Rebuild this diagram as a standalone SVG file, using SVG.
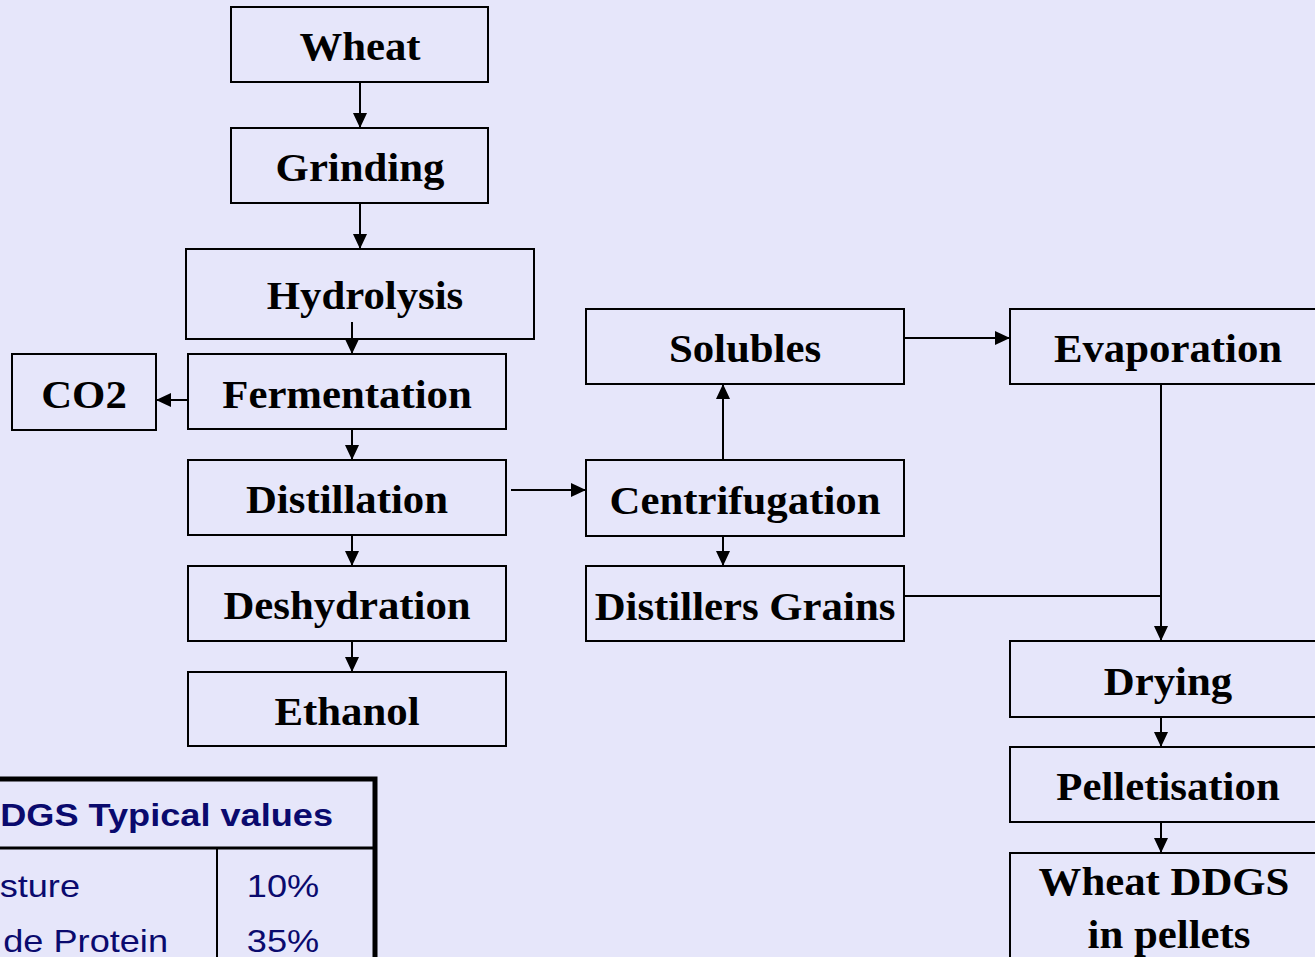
<svg xmlns="http://www.w3.org/2000/svg" width="1315" height="957" viewBox="0 0 1315 957">
<style>
.box{fill:none;stroke:#000;stroke-width:2}
.lbl{font-family:"Liberation Serif","Times New Roman",serif;font-weight:bold;font-size:40px;fill:#000;text-anchor:middle}
.conn{stroke:#000;stroke-width:2;fill:none}
.tbl{font-family:"Liberation Sans",Arial,sans-serif;font-size:32px;fill:#0a0a6e}
</style>
<defs>
<marker id="ah" markerUnits="userSpaceOnUse" markerWidth="16" markerHeight="14" refX="15" refY="7" orient="auto">
<path d="M0,0 L15,7 L0,14 Z" fill="#000"/>
</marker>
</defs>
<rect x="0" y="0" width="1315" height="957" fill="#E6E6FA"/>
<g id="connectors">
<line class="conn" x1="360" y1="82" x2="360" y2="128" marker-end="url(#ah)"/>
<line class="conn" x1="360" y1="203" x2="360" y2="249" marker-end="url(#ah)"/>
<line class="conn" x1="352" y1="322" x2="352" y2="354" marker-end="url(#ah)"/>
<line class="conn" x1="188" y1="400" x2="156" y2="400" marker-end="url(#ah)"/>
<line class="conn" x1="352" y1="429" x2="352" y2="460" marker-end="url(#ah)"/>
<line class="conn" x1="352" y1="535" x2="352" y2="566" marker-end="url(#ah)"/>
<line class="conn" x1="352" y1="641" x2="352" y2="672" marker-end="url(#ah)"/>
<line class="conn" x1="511" y1="490" x2="586" y2="490" marker-end="url(#ah)"/>
<line class="conn" x1="723" y1="460" x2="723" y2="384" marker-end="url(#ah)"/>
<line class="conn" x1="723" y1="536" x2="723" y2="566" marker-end="url(#ah)"/>
<line class="conn" x1="904" y1="338" x2="1010" y2="338" marker-end="url(#ah)"/>
<line class="conn" x1="1161" y1="384" x2="1161" y2="641" marker-end="url(#ah)"/>
<line class="conn" x1="904" y1="596" x2="1161" y2="596"/>
<line class="conn" x1="1161" y1="717" x2="1161" y2="747" marker-end="url(#ah)"/>
<line class="conn" x1="1161" y1="822" x2="1161" y2="853" marker-end="url(#ah)"/>
</g>
<g id="wheat"><rect class="box" x="231" y="7" width="257" height="75"/><text class="lbl" transform="translate(360 60) scale(1.07 1)">Wheat</text></g>
<g id="grinding"><rect class="box" x="231" y="128" width="257" height="75"/><text class="lbl" transform="translate(360 181) scale(1.07 1)">Grinding</text></g>
<g id="hydrolysis"><rect class="box" x="186" y="249" width="348" height="90"/><text class="lbl" transform="translate(365 309) scale(1.07 1)">Hydrolysis</text></g>
<g id="fermentation"><rect class="box" x="188" y="354" width="318" height="75"/><text class="lbl" transform="translate(347 408) scale(1.07 1)">Fermentation</text></g>
<g id="co2"><rect class="box" x="12" y="354" width="144" height="76"/><text class="lbl" transform="translate(84 408) scale(1.07 1)">CO2</text></g>
<g id="distillation"><rect class="box" x="188" y="460" width="318" height="75"/><text class="lbl" transform="translate(347 513) scale(1.07 1)">Distillation</text></g>
<g id="deshydration"><rect class="box" x="188" y="566" width="318" height="75"/><text class="lbl" transform="translate(347 619) scale(1.07 1)">Deshydration</text></g>
<g id="ethanol"><rect class="box" x="188" y="672" width="318" height="74"/><text class="lbl" transform="translate(347 725) scale(1.07 1)">Ethanol</text></g>
<g id="solubles"><rect class="box" x="586" y="309" width="318" height="75"/><text class="lbl" transform="translate(745 362) scale(1.07 1)">Solubles</text></g>
<g id="evaporation"><rect class="box" x="1010" y="309" width="320" height="75"/><text class="lbl" transform="translate(1168 362) scale(1.07 1)">Evaporation</text></g>
<g id="centrifugation"><rect class="box" x="586" y="460" width="318" height="76"/><text class="lbl" transform="translate(745 514) scale(1.07 1)">Centrifugation</text></g>
<g id="distillers-grains"><rect class="box" x="586" y="566" width="318" height="75"/><text class="lbl" transform="translate(745 620) scale(1.07 1)">Distillers Grains</text></g>
<g id="drying"><rect class="box" x="1010" y="641" width="320" height="76"/><text class="lbl" transform="translate(1168 695) scale(1.07 1)">Drying</text></g>
<g id="pelletisation"><rect class="box" x="1010" y="747" width="320" height="75"/><text class="lbl" transform="translate(1168 800) scale(1.07 1)">Pelletisation</text></g>
<g id="wheat-ddgs"><rect class="box" x="1010" y="853" width="320" height="130"/><text class="lbl" transform="translate(1164 895) scale(1.07 1)">Wheat DDGS</text><text class="lbl" transform="translate(1169 948) scale(1.07 1)">in pellets</text></g>
<g id="table">
<rect x="-20" y="779" width="395" height="200" fill="none" stroke="#000" stroke-width="5"/>
<line x1="-20" y1="848" x2="375" y2="848" stroke="#000" stroke-width="3"/>
<line x1="217" y1="848" x2="217" y2="960" stroke="#000" stroke-width="2"/>
<text class="tbl" transform="translate(333 826) scale(1.13 1)" text-anchor="end" font-weight="bold">DDGS Typical values</text>
<text class="tbl" transform="translate(80 897) scale(1.13 1)" text-anchor="end">sture</text>
<text class="tbl" transform="translate(283 897) scale(1.13 1)" text-anchor="middle">10%</text>
<text class="tbl" transform="translate(168 952) scale(1.13 1)" text-anchor="end">de Protein</text>
<text class="tbl" transform="translate(283 952) scale(1.13 1)" text-anchor="middle">35%</text>
</g>
</svg>
